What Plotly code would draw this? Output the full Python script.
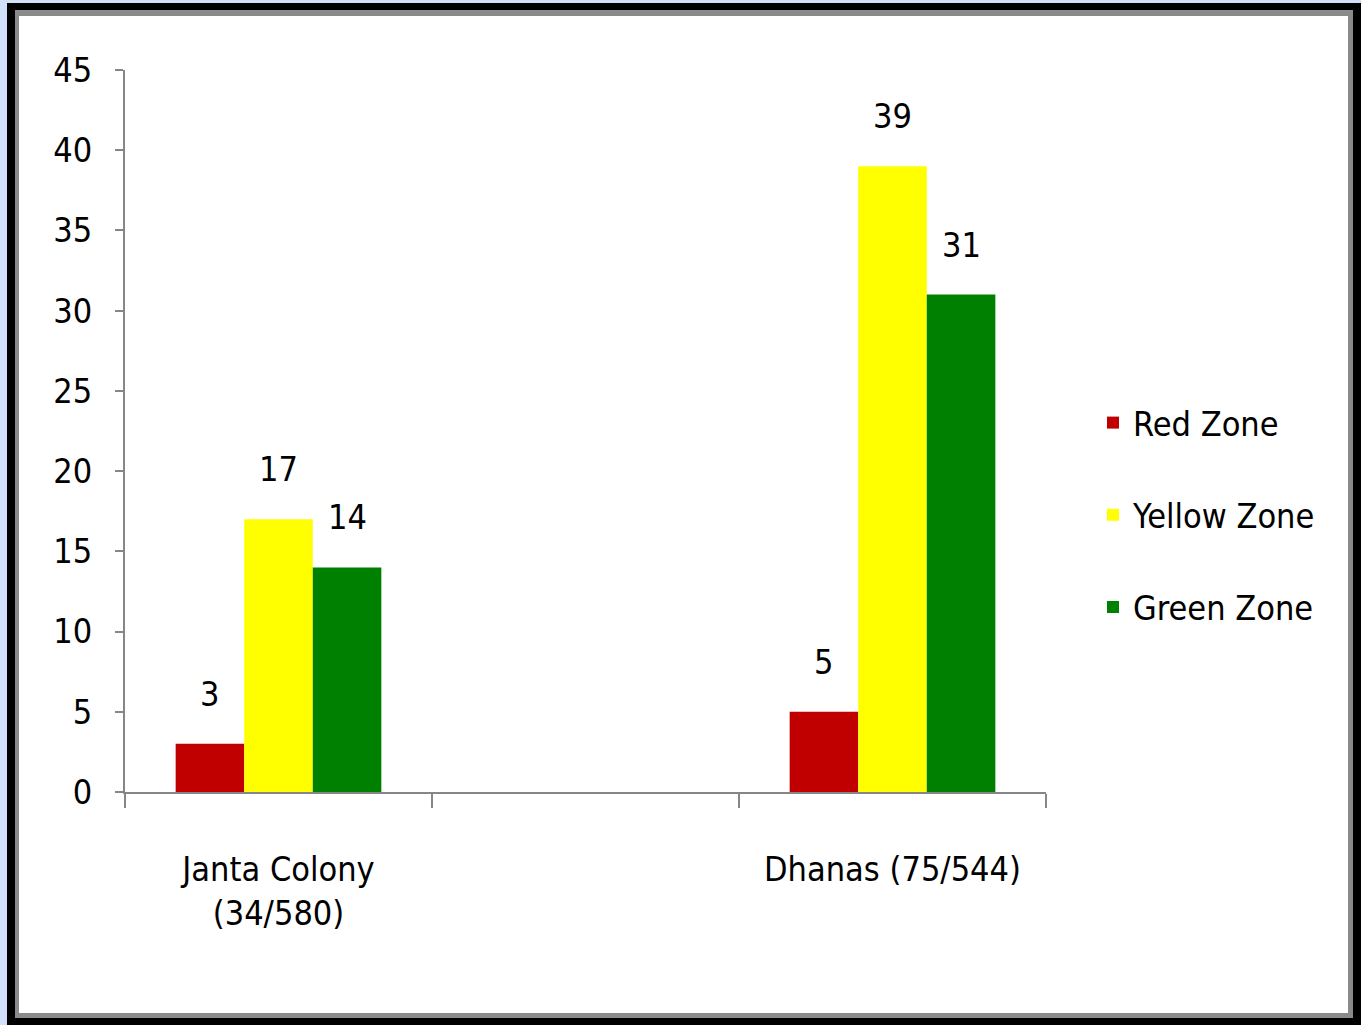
import plotly.graph_objects as go

# ---- data ----
categories = ["Janta Colony<br>(34/580)", " ", "Dhanas (75/544)"]
data_categories = ["Janta Colony<br>(34/580)", "Dhanas (75/544)"]
series_names = ["Red Zone", "Yellow Zone", "Green Zone"]
red_values = [3, 5]
yellow_values = [17, 39]
green_values = [14, 31]
y_ticks = [0, 5, 10, 15, 20, 25, 30, 35, 40, 45]

series_values = [red_values, yellow_values, green_values]
colors = ["#C00000", "#FFFF00", "#008000"]

FONT = "Liberation Sans Narrow, DejaVu Sans Condensed, Arial Narrow, sans-serif"
FS = 34
W, H = 1361, 1025
L, R, T, B = 125, 315, 70, 233
plot_w = W - L - R
plot_h = H - T - B
bargap = 0.33

fig = go.Figure()
for name, vals, col in zip(series_names, series_values, colors):
    fig.add_trace(go.Bar(
        name=name, x=data_categories, y=vals,
        marker=dict(color=col, line=dict(width=0)),
        legendgroup=name,
    ))

# data labels above bars
cat_px = plot_w / len(categories)
bar_px = cat_px * (1 - bargap) / len(series_names)
for j, vals in enumerate(series_values):
    for cat, v in zip(data_categories, vals):
        fig.add_annotation(
            x=cat, y=v, xref="x", yref="y", text=str(v), showarrow=False,
            xshift=(j - 1) * bar_px, yshift=50, yanchor="middle",
            font=dict(family=FONT, size=FS, color="#000000"),
        )

def xp(px):
    return (px - L) / plot_w

def yp(py):
    return (H - B - py) / plot_h

# frame
fig.add_shape(type="rect", xref="paper", yref="paper", layer="below",
              x0=xp(7), x1=xp(1375), y0=yp(1040), y1=yp(3),
              fillcolor="#000000", line=dict(width=0))
fig.add_shape(type="rect", xref="paper", yref="paper", layer="below",
              x0=xp(15), x1=xp(1353), y0=yp(1018), y1=yp(10),
              fillcolor="#8a8a8a", line=dict(width=0))
fig.add_shape(type="rect", xref="paper", yref="paper", layer="below",
              x0=xp(19), x1=xp(1348), y0=yp(1013), y1=yp(16),
              fillcolor="#ffffff", line=dict(width=0))

fig.update_layout(
    width=W, height=H,
    margin=dict(l=L, r=R, t=T, b=B, pad=0),
    paper_bgcolor="#cfe0f8",
    plot_bgcolor="rgba(0,0,0,0)",
    barmode="group", bargap=bargap, bargroupgap=0,
    font=dict(family=FONT, size=FS, color="#000000"),
    showlegend=True,
    legend=dict(
        x=xp(1093), y=yp(515), xanchor="left", yanchor="middle",
        traceorder="grouped", tracegroupgap=45,
        font=dict(family=FONT, size=FS, color="#000000"),
        bgcolor="rgba(0,0,0,0)",
    ),
    xaxis=dict(
        type="category", categoryorder="array", categoryarray=categories,
        range=[-0.5, len(categories) - 0.5],
        showline=True, linecolor="#868686", linewidth=2,
        ticks="outside", ticklen=14, tickcolor="#868686", tickwidth=2,
        tickson="boundaries", showgrid=False, zeroline=False,
        ticklabelstandoff=46,
        tickfont=dict(family=FONT, size=FS, color="#000000"),
    ),
    yaxis=dict(
        range=[0, 45], tickmode="array", tickvals=y_ticks,
        showline=True, linecolor="#868686", linewidth=2,
        ticks="outside", ticklen=8, tickcolor="#868686", tickwidth=2,
        showgrid=False, zeroline=False, ticklabelstandoff=16,
        tickfont=dict(family=FONT, size=FS, color="#000000"),
    ),
)

fig.write_html("out.html")
